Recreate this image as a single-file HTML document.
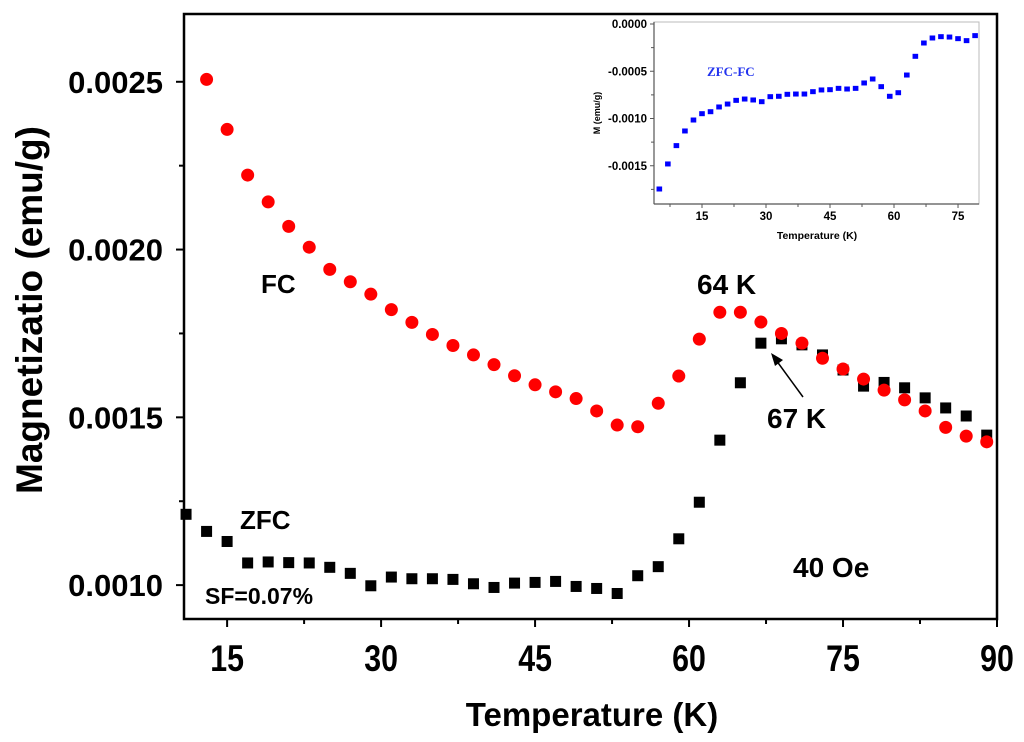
<!DOCTYPE html>
<html><head><meta charset="utf-8"><style>
html,body{margin:0;padding:0;background:#fff;}
svg{display:block;font-family:"Liberation Sans",sans-serif;}
</style></head><body>
<svg id="chart" width="1024" height="742" viewBox="0 0 1024 742" xmlns="http://www.w3.org/2000/svg">
<rect x="0" y="0" width="1024" height="742" fill="#fff"/>
<g id="main"></g>
<g id="inset"></g>
</svg>
<script>
const fcTemps=[13,15,17,19,21,23,25,27,29,31,33,35,37,39,41,43,45,47,49,51,53,55,57,59,61,63,65,67,69,71,73,75,77,79,81,83,85,87,89];
const fcValues=[0.002507,0.002358,0.002222,0.002142,0.002069,0.002007,0.001941,0.001904,0.001867,0.001821,0.001783,0.001747,0.001714,0.001686,0.001657,0.001624,0.001597,0.001576,0.001556,0.001519,0.001477,0.001472,0.001542,0.001623,0.001733,0.001813,0.001813,0.001784,0.001750,0.001721,0.001676,0.001644,0.001614,0.001581,0.001552,0.001519,0.001470,0.001444,0.001427];
const zfcTemps=[11,13,15,17,19,21,23,25,27,29,31,33,35,37,39,41,43,45,47,49,51,53,55,57,59,61,63,65,67,69,71,73,75,77,79,81,83,85,87,89];
const zfcValues=[0.001211,0.001160,0.001130,0.001066,0.001069,0.001067,0.001066,0.001053,0.001035,0.000998,0.001024,0.001019,0.001019,0.001017,0.001004,0.000993,0.001006,0.001008,0.001011,0.000996,0.000990,0.000975,0.001028,0.001055,0.001138,0.001247,0.001432,0.001603,0.001721,0.001734,0.001716,0.001686,0.001641,0.001593,0.001604,0.001588,0.001558,0.001528,0.001504,0.001447];
const xTickLabels=["15","30","45","60","75","90"];
const yTickLabels=["0.0010","0.0015","0.0020","0.0025"];
const insetTemps=[5,7,9,11,13,15,17,19,21,23,25,27,29,31,33,35,37,39,41,43,45,47,49,51,53,55,57,59,61,63,65,67,69,71,73,75,77,79];
const insetValues=[-0.001746,-0.001481,-0.001287,-0.001132,-0.001016,-0.000949,-0.000928,-0.000878,-0.000847,-0.000808,-0.000794,-0.000804,-0.000822,-0.000769,-0.000765,-0.000744,-0.000741,-0.000741,-0.000716,-0.000698,-0.000695,-0.000681,-0.000688,-0.000681,-0.000624,-0.000582,-0.000663,-0.000765,-0.000727,-0.000540,-0.000342,-0.000201,-0.000148,-0.000134,-0.000138,-0.000155,-0.000176,-0.000123];
const insetXTickLabels=["15","30","45","60","75"];
const insetYTickLabels=["0.0000","-0.0005","-0.0010","-0.0015"];

const NS="http://www.w3.org/2000/svg";
function mk(parent,tag,attrs,text){const e=document.createElementNS(NS,tag);for(const k in attrs)e.setAttribute(k,attrs[k]);if(text!==undefined)e.textContent=text;parent.appendChild(e);return e;}

const L=184,R=997,T=14,B=619;
const X0=10.8,X1=90, Y0=0.000899,Y1=0.002702;
const xs=t=>L+(t-X0)/(X1-X0)*(R-L);
const ys=v=>B-(v-Y0)/(Y1-Y0)*(B-T);
const g=document.getElementById('main');

const frame=mk(g,'rect',{x:L,y:T,width:R-L,height:B-T,fill:'none',stroke:'#000','stroke-width':2.5});



xTickLabels.forEach((lab,i)=>{
  const t=parseFloat(lab);const x=xs(t);
  const tk=mk(g,'line',{x1:x,y1:B,x2:x,y2:B+8,stroke:'#000','stroke-width':2});
  
  
  if(i>0){const xm=xs(t-7.5);const m=mk(g,'line',{x1:xm,y1:B,x2:xm,y2:B+5,stroke:'#000','stroke-width':2});
    
    }
  const tl=mk(g,'text',{x:0,y:0,transform:`translate(${x},671) scale(0.82,1)`,'text-anchor':'middle','font-size':37,'font-weight':'bold'},lab);
  
  
});
yTickLabels.forEach((lab,i)=>{
  const v=parseFloat(lab);const y=ys(v);
  const tk=mk(g,'line',{x1:L-8,y1:y,x2:L,y2:y,stroke:'#000','stroke-width':2});
  
  
  const ym=ys(v+0.00025);
  const m=mk(g,'line',{x1:L-5,y1:ym,x2:L,y2:ym,stroke:'#000','stroke-width':2});
  
  
  const tl=mk(g,'text',{x:163,y:y+11,'text-anchor':'end','font-size':31,'font-weight':'bold'},lab);
  
  
});

const xt=mk(g,'text',{x:592,y:726,'text-anchor':'middle','font-size':33,'font-weight':'bold'},'Temperature (K)');


const yt=mk(g,'text',{x:0,y:0,transform:'translate(42,310) rotate(-90)','text-anchor':'middle','font-size':37,'font-weight':'bold'},'Magnetizatio (emu/g)');



zfcTemps.forEach((t,i)=>{
  const r=mk(g,'rect',{x:xs(t)-5.5,y:ys(zfcValues[i])-5.5,width:11,height:11,fill:'#000'});
  
  
});
fcTemps.forEach((t,i)=>{
  const c=mk(g,'circle',{cx:xs(t),cy:ys(fcValues[i]),r:6.5,fill:'#ff0000'});
  
  
});

function label(txt,x,y,size,name){const e=mk(g,'text',{x:x,y:y,'font-size':size,'font-weight':'bold'},txt);
  
  }
label('FC',261,293,26,'fc-label');
label('ZFC',240,529,26,'zfc-label');
label('SF=0.07%',205,604,23,'sf-label');
label('64 K',697,294,28,'peak-64k-label');
label('67 K',767,428,28,'peak-67k-label');
label('40 Oe',793,577,28,'field-label');
const ar=mk(g,'line',{x1:803,y1:397,x2:776,y2:360,stroke:'#000','stroke-width':1.5});


const ah=mk(g,'polygon',{points:'771,353 783,360 775,366',fill:'#000'});



const iL=654,iR=979,iT=22,iB=204;
const ix=t=>702+(t-15)*4.267;
const iy=v=>24-v*94500;
const gi=document.getElementById('inset');
const ibg=mk(gi,'rect',{x:iL,y:iT,width:iR-iL,height:iB-iT,fill:'#fff',stroke:'#bbb','stroke-width':1});


const ia1=mk(gi,'line',{x1:iL,y1:iT,x2:iL,y2:iB,stroke:'#555','stroke-width':1.2});


const ia2=mk(gi,'line',{x1:iL,y1:iB,x2:iR,y2:iB,stroke:'#555','stroke-width':1.2});


insetXTickLabels.forEach(lab=>{
  const t=parseFloat(lab);const x=ix(t);
  const tk=mk(gi,'line',{x1:x,y1:iB,x2:x,y2:iB+4,stroke:'#555','stroke-width':1});
  
  
  const xm=ix(t-7.5);
  const m=mk(gi,'line',{x1:xm,y1:iB,x2:xm,y2:iB+3,stroke:'#555','stroke-width':1});
  
  
  const tl=mk(gi,'text',{x:x,y:220,'text-anchor':'middle','font-size':11.5,'font-weight':'bold'},lab);
  
  
});
insetYTickLabels.forEach(lab=>{
  const v=parseFloat(lab);const y=iy(v);
  const tk=mk(gi,'line',{x1:iL-4,y1:y,x2:iL,y2:y,stroke:'#555','stroke-width':1});
  
  
  const ym=iy(v-0.00025);
  const m=mk(gi,'line',{x1:iL-3,y1:ym,x2:iL,y2:ym,stroke:'#555','stroke-width':1});
  
  
  const tl=mk(gi,'text',{x:647,y:y+4,'text-anchor':'end','font-size':11.5,'font-weight':'bold'},lab);
  
  
});
const ixt=mk(gi,'text',{x:817,y:239,'text-anchor':'middle','font-size':10.5,'font-weight':'bold'},'Temperature (K)');


const iyt=mk(gi,'text',{x:0,y:0,transform:'translate(600,113) rotate(-90)','text-anchor':'middle','font-size':9,'font-weight':'bold'},'M (emu/g)');


const izl=mk(gi,'text',{x:707,y:76,'font-size':13,'font-weight':'bold',fill:'#2233ee','font-family':'"Liberation Serif",serif'},'ZFC-FC');


insetTemps.forEach((t,i)=>{
  const r=mk(gi,'rect',{x:ix(t)-2.8,y:iy(insetValues[i])-2.5,width:5.6,height:5,fill:'#0000ff'});
  
  
});
</script>
</body></html>
